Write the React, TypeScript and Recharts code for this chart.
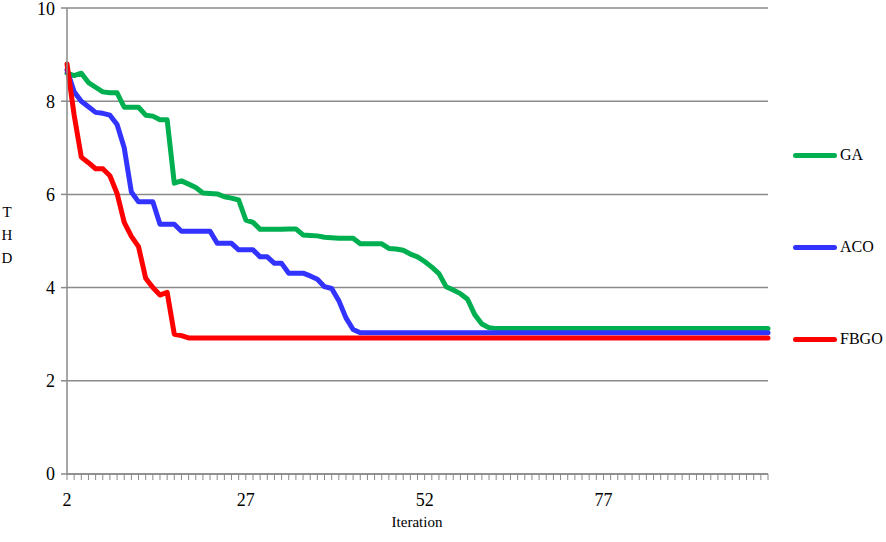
import React from 'react';
import { LineChart, Line, XAxis, YAxis, CartesianGrid, Legend } from 'recharts';

const iterations = [
  2, 3, 4, 5, 6, 7, 8, 9, 10, 11,
  12, 13, 14, 15, 16, 17, 18, 19, 20, 21,
  22, 23, 24, 25, 26, 27, 28, 29, 30, 31,
  32, 33, 34, 35, 36, 37, 38, 39, 40, 41,
  42, 43, 44, 45, 46, 47, 48, 49, 50, 51,
  52, 53, 54, 55, 56, 57, 58, 59, 60, 61,
  62, 63, 64, 65, 66, 67, 68, 69, 70, 71,
  72, 73, 74, 75, 76, 77, 78, 79, 80, 81,
  82, 83, 84, 85, 86, 87, 88, 89, 90, 91,
  92, 93, 94, 95, 96, 97, 98, 99, 100,
];

const gaValues = [
  8.6, 8.55, 8.6, 8.4, 8.3, 8.2, 8.18, 8.18, 7.87, 7.87,
  7.87, 7.7, 7.68, 7.6, 7.6, 6.24, 6.29, 6.22, 6.15, 6.03,
  6.02, 6.01, 5.95, 5.92, 5.88, 5.45, 5.4, 5.25, 5.25, 5.25,
  5.25, 5.26, 5.26, 5.13, 5.12, 5.11, 5.08, 5.07, 5.06, 5.06,
  5.06, 4.94, 4.94, 4.94, 4.94, 4.84, 4.83, 4.8, 4.72, 4.66,
  4.56, 4.44, 4.3, 4.02, 3.95, 3.87, 3.75, 3.42, 3.22, 3.14,
  3.12, 3.12, 3.12, 3.12, 3.12, 3.12, 3.12, 3.12, 3.12, 3.12,
  3.12, 3.12, 3.12, 3.12, 3.12, 3.12, 3.12, 3.12, 3.12, 3.12,
  3.12, 3.12, 3.12, 3.12, 3.12, 3.12, 3.12, 3.12, 3.12, 3.12,
  3.12, 3.12, 3.12, 3.12, 3.12, 3.12, 3.12, 3.12, 3.12,
];

const acoValues = [
  8.67, 8.2, 8.0, 7.88, 7.76, 7.74, 7.7, 7.5, 7.0, 6.05,
  5.84, 5.84, 5.84, 5.36, 5.36, 5.36, 5.21, 5.21, 5.21, 5.21,
  5.21, 4.95, 4.95, 4.95, 4.81, 4.81, 4.81, 4.66, 4.66, 4.52,
  4.52, 4.31, 4.31, 4.31, 4.25, 4.18, 4.02, 3.98, 3.72, 3.35,
  3.1, 3.03, 3.03, 3.03, 3.03, 3.03, 3.03, 3.03, 3.03, 3.03,
  3.03, 3.03, 3.03, 3.03, 3.03, 3.03, 3.03, 3.03, 3.03, 3.03,
  3.03, 3.03, 3.03, 3.03, 3.03, 3.03, 3.03, 3.03, 3.03, 3.03,
  3.03, 3.03, 3.03, 3.03, 3.03, 3.03, 3.03, 3.03, 3.03, 3.03,
  3.03, 3.03, 3.03, 3.03, 3.03, 3.03, 3.03, 3.03, 3.03, 3.03,
  3.03, 3.03, 3.03, 3.03, 3.03, 3.03, 3.03, 3.03, 3.03,
];

const fbgoValues = [
  8.8, 7.7, 6.8, 6.68, 6.55, 6.55, 6.4, 6.02, 5.4, 5.1,
  4.88, 4.2, 4.0, 3.84, 3.9, 3.0, 2.97, 2.92, 2.92, 2.92,
  2.92, 2.92, 2.92, 2.92, 2.92, 2.92, 2.92, 2.92, 2.92, 2.92,
  2.92, 2.92, 2.92, 2.92, 2.92, 2.92, 2.92, 2.92, 2.92, 2.92,
  2.92, 2.92, 2.92, 2.92, 2.92, 2.92, 2.92, 2.92, 2.92, 2.92,
  2.92, 2.92, 2.92, 2.92, 2.92, 2.92, 2.92, 2.92, 2.92, 2.92,
  2.92, 2.92, 2.92, 2.92, 2.92, 2.92, 2.92, 2.92, 2.92, 2.92,
  2.92, 2.92, 2.92, 2.92, 2.92, 2.92, 2.92, 2.92, 2.92, 2.92,
  2.92, 2.92, 2.92, 2.92, 2.92, 2.92, 2.92, 2.92, 2.92, 2.92,
  2.92, 2.92, 2.92, 2.92, 2.92, 2.92, 2.92, 2.92, 2.92,
];

const xTickLabels = [2, 27, 52, 77];
const yTicks = [0, 2, 4, 6, 8, 10];
const seriesNames = ['GA', 'ACO', 'FBGO'];
const seriesColors = ['#00B050', '#3333FF', '#FF0000'];
const yAxisTitle = ['T', 'H', 'D'];
const xAxisTitle = 'Iteration';

const seriesValues = [gaValues, acoValues, fbgoValues];

const data = iterations.map((it, i) => {
  const row: Record<string, number> = { iter: it };
  seriesNames.forEach((name, s) => {
    row[name] = seriesValues[s][i];
  });
  return row;
});

const FONT = "'Liberation Serif', 'Times New Roman', serif";
const GRID = '#8a8a8a';

const XTick = (props: any) => {
  const { x, y, payload } = props;
  if (!xTickLabels.includes(payload.value)) return <g />;
  return (
    <text x={x} y={y} dy="0.71em" textAnchor="middle" style={{ fontFamily: FONT, fontSize: 18 }} fill="#000">
      {payload.value}
    </text>
  );
};

const YTick = (props: any) => {
  const { x, y, payload } = props;
  return (
    <text x={x} y={y} dy="0.35em" textAnchor="end" style={{ fontFamily: FONT, fontSize: 18 }} fill="#000">
      {payload.value}
    </text>
  );
};

const YTitle = () => (
  <g>
    {yAxisTitle.map((ch, i) => (
      <text key={ch} x={7} y={212 + i * 23} dy="0.35em" textAnchor="middle" style={{ fontFamily: FONT, fontSize: 15 }} fill="#000">
        {ch}
      </text>
    ))}
  </g>
);

const XTitle = () => (
  <text x={417} y={522} dy="0.35em" textAnchor="middle" style={{ fontFamily: FONT, fontSize: 15 }} fill="#000">
    {xAxisTitle}
  </text>
);

const LegendContent = (props: any) => {
  const payload = [...(props.payload || [])].sort(
    (a: any, b: any) => seriesNames.indexOf(a.value) - seriesNames.indexOf(b.value)
  );
  return (
    <div style={{ position: 'relative', width: 93, height: 210 }}>
      {payload.map((p: any, i: number) => (
        <div
          key={p.value}
          style={{ position: 'absolute', left: 0, top: i * 92, height: 20, display: 'flex', alignItems: 'center' }}
        >
          <div style={{ width: 44, height: 5, borderRadius: 3, background: p.color }} />
          <span style={{ fontFamily: FONT, fontSize: 16, color: '#000', marginLeft: 3, lineHeight: '20px' }}>
            {p.value}
          </span>
        </div>
      ))}
    </div>
  );
};

export default function App() {
  return (
    <div style={{ position: 'absolute', left: 0, top: 0, width: 886, height: 542, background: '#fff' }}>
      <LineChart width={886} height={542} data={data} margin={{ top: 8, right: 118, bottom: 38, left: 0 }}>
        <CartesianGrid horizontal vertical={false} stroke={GRID} strokeWidth={1.5} />
        <XAxis
          dataKey="iter"
          type="category"
          interval={0}
          height={30}
          tick={<XTick />}
          tickSize={6}
          tickMargin={13}
          axisLine={{ stroke: GRID, strokeWidth: 1.5 }}
          tickLine={{ stroke: GRID, strokeWidth: 1 }}
          label={{ content: () => <XTitle /> }}
        />
        <YAxis
          type="number"
          domain={[0, 10]}
          ticks={yTicks}
          width={67}
          tickSize={6}
          tickMargin={6}
          tick={<YTick />}
          axisLine={{ stroke: GRID, strokeWidth: 1.5 }}
          tickLine={{ stroke: GRID, strokeWidth: 1.5 }}
          label={{ content: () => <YTitle /> }}
        />
        <Legend
          layout="horizontal"
          verticalAlign="middle"
          align="center"
          wrapperStyle={{ left: 793, top: 145, width: 93 }}
          content={<LegendContent />}
        />
        {seriesNames.map((name, s) => (
          <Line
            key={name}
            type="linear"
            dataKey={name}
            name={name}
            stroke={seriesColors[s]}
            strokeWidth={5}
            dot={false}
            strokeLinejoin="round"
            strokeLinecap="round"
            isAnimationActive={false}
          />
        ))}
      </LineChart>
    </div>
  );
}
